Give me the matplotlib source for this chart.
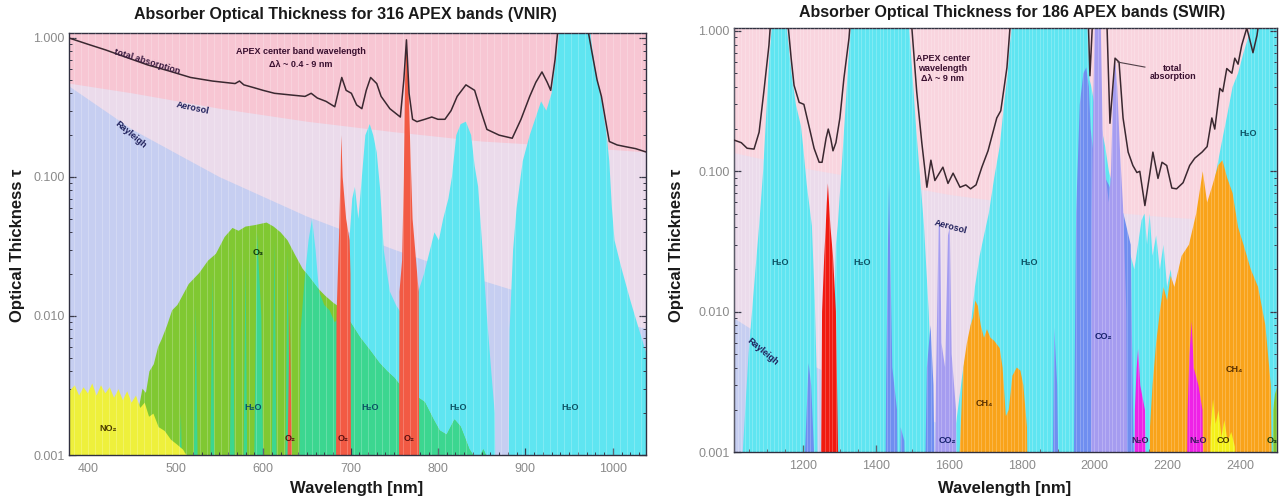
import numpy as np
import matplotlib
matplotlib.use('Agg')
import matplotlib.pyplot as plt
from matplotlib.ticker import MultipleLocator, LogLocator, FuncFormatter, NullFormatter

plt.rcParams['font.family'] = ['Liberation Sans', 'DejaVu Sans']

# ---------------- VNIR panel data (wavelength nm, optical thickness) ----------------
vnir_ray_wl = [378, 450, 550, 650, 750, 850, 950, 1040]
vnir_ray = [0.45, 0.22, 0.10, 0.052, 0.030, 0.018, 0.0115, 0.0080]
vnir_aer_wl = [378, 450, 550, 650, 750, 850, 950, 1040]
vnir_aer = [0.47, 0.40, 0.31, 0.25, 0.21, 0.18, 0.165, 0.15]

vnir_no2_wl = [378, 384, 389, 394, 399, 404, 409, 414, 419, 424, 429, 434, 439, 444,
               449, 454, 459, 464, 469, 474, 480, 487, 494, 501, 508, 512, 516]
vnir_no2 = [0.0029, 0.0032, 0.0027, 0.0031, 0.0028, 0.0033, 0.0027, 0.0032, 0.0028, 0.0031,
            0.0026, 0.0030, 0.0025, 0.0029, 0.0024, 0.0027, 0.0022, 0.0024, 0.0019, 0.0020,
            0.0016, 0.0015, 0.0013, 0.0012, 0.0011, 0.0010, 0.0001]

vnir_o3_wl = [455, 458, 462, 466, 470, 475, 480, 484, 490, 496, 502, 507, 515, 527, 537, 546,
              556, 565, 572, 580, 590, 597, 604, 612, 620, 628, 636, 645, 653, 662, 671, 680,
              688, 700, 711, 722, 733, 742, 750, 760, 768, 777, 785, 795, 802, 810, 819, 826,
              836, 845, 852, 858, 862]
vnir_o3 = [0.0001, 0.0022, 0.0030, 0.0028, 0.0040, 0.0045, 0.0060, 0.0068, 0.0085, 0.011,
           0.012, 0.0137, 0.017, 0.0204, 0.025, 0.028, 0.037, 0.043, 0.041, 0.044, 0.045,
           0.046, 0.047, 0.044, 0.040, 0.035, 0.028, 0.022, 0.019, 0.016, 0.014, 0.0125,
           0.0115, 0.009, 0.007, 0.0057, 0.0046, 0.0040, 0.0036, 0.0030, 0.0028, 0.0026,
           0.0024, 0.0018, 0.0015, 0.0014, 0.0018, 0.0016, 0.0011, 0.0009, 0.0011, 0.0009,
           0.0001]

vnir_h2o_wl = [500, 506, 510, 519, 523, 527, 538, 542, 546, 560, 565, 569, 576, 580, 583,
               588, 593, 598, 602, 608, 613, 617, 624, 628, 632, 640, 643, 648, 652, 656,
               660, 664, 670, 676, 682, 688, 694, 698, 702, 705, 709, 713, 717, 722, 726,
               730, 734, 738, 745, 752, 760, 768, 776, 784, 791, 796, 801, 806, 812, 816,
               821, 826, 832, 838, 842, 846, 851, 856, 861, 865, 867, 880, 882, 886, 890,
               897, 905, 912, 918, 924, 930, 935, 938, 940, 970, 975, 980, 987, 993, 996,
               999, 1002, 1010, 1020, 1030, 1040]
vnir_h2o = [0.0001, 0.002, 0.0001, 0.0001, 0.012, 0.0001, 0.0001, 0.02, 0.0001, 0.0001,
            0.03, 0.0001, 0.0001, 0.025, 0.0001, 0.0001, 0.04, 0.01, 0.0001, 0.0001, 0.035,
            0.0001, 0.0001, 0.03, 0.0001, 0.0001, 0.008, 0.02, 0.035, 0.05, 0.03, 0.015,
            0.012, 0.011, 0.009, 0.010, 0.012, 0.03, 0.07, 0.085, 0.05, 0.10, 0.20, 0.24,
            0.20, 0.15, 0.08, 0.03, 0.015, 0.012, 0.010, 0.011, 0.014, 0.02, 0.03, 0.04,
            0.035, 0.05, 0.07, 0.10, 0.20, 0.24, 0.25, 0.20, 0.12, 0.085, 0.03, 0.01, 0.004,
            0.002, 0.0001, 0.0001, 0.008, 0.03, 0.06, 0.13, 0.20, 0.27, 0.35, 0.30, 0.40,
            0.70, 1.0, 3.0, 3.0, 1.0, 0.60, 0.36, 0.20, 0.13, 0.06, 0.035, 0.022, 0.013,
            0.008, 0.005]

vnir_o2_wl = [626, 628, 630.5, 633, 635, 683, 684, 687, 688.5, 689.5, 691, 695, 699, 700,
              701, 755, 756, 759, 761, 762.5, 764, 766, 768, 771, 775, 778, 779]
vnir_o2 = [0.0001, 0.001, 0.011, 0.001, 0.0001, 0.0001, 0.01, 0.04, 0.10, 0.20, 0.10, 0.05,
           0.035, 0.02, 0.0001, 0.0001, 0.015, 0.025, 0.10, 0.50, 0.92, 0.50, 0.20, 0.05,
           0.025, 0.015, 0.0001]

vnir_tot_wl = [378, 400, 420, 445, 468, 492, 517, 542, 568, 573, 578, 589, 600, 613, 630,
               648, 655, 662, 672, 682, 690, 695, 701, 707, 713, 718, 723, 730, 735, 745,
               757, 761, 764, 767, 771, 776, 785, 793, 800, 808, 815, 822, 832, 842, 849,
               856, 870, 885, 895, 905, 912, 919, 925, 929, 934, 938, 970, 976, 982, 987,
               992, 996, 1005, 1015, 1026, 1040]
vnir_tot = [1.0, 0.90, 0.82, 0.72, 0.64, 0.58, 0.52, 0.49, 0.47, 0.49, 0.46, 0.44, 0.42,
            0.40, 0.39, 0.38, 0.40, 0.37, 0.35, 0.32, 0.52, 0.42, 0.40, 0.33, 0.31, 0.42,
            0.52, 0.47, 0.38, 0.31, 0.27, 0.50, 0.97, 0.40, 0.26, 0.25, 0.26, 0.27, 0.26,
            0.26, 0.30, 0.38, 0.46, 0.42, 0.30, 0.22, 0.20, 0.19, 0.26, 0.38, 0.48, 0.57,
            0.48, 0.42, 0.70, 1.3, 1.3, 0.80, 0.50, 0.38, 0.25, 0.18, 0.17, 0.165, 0.16, 0.15]

# ---------------- SWIR panel data ----------------
swir_ray_wl = [1010, 1100, 1200, 1300, 1400, 1500, 1600, 1700, 1800]
swir_ray = [0.009, 0.0064, 0.0045, 0.0033, 0.0024, 0.0019, 0.0015, 0.0012, 0.00095]
swir_aer_wl = [1010, 1200, 1400, 1600, 1800, 2000, 2200, 2502]
swir_aer = [0.135, 0.105, 0.085, 0.068, 0.058, 0.052, 0.047, 0.042]

swir_h2o_wl = [1030, 1034, 1050, 1065, 1079, 1090, 1100, 1108, 1113, 1116, 1153, 1156, 1168,
               1180, 1194, 1200, 1210, 1224, 1232, 1238, 1242, 1284, 1286, 1290, 1295, 1305,
               1315, 1324, 1330, 1333, 1489, 1492, 1500, 1510, 1520, 1532, 1545, 1553, 1558,
               1600, 1610, 1625, 1640, 1655, 1672, 1685, 1697, 1710, 1725, 1740, 1752, 1762,
               1768, 1772, 1775, 1978, 1982, 1987, 1992, 2000, 2010, 2020, 2030, 2040, 2050,
               2060, 2070, 2080, 2090, 2100, 2110, 2120, 2130, 2138, 2145, 2152, 2160, 2170,
               2180, 2190, 2200, 2210, 2220, 2240, 2260, 2280, 2300, 2320, 2335, 2350, 2365,
               2380, 2395, 2410, 2420, 2428, 2432, 2502]
swir_h2o = [0.0001, 0.001, 0.005, 0.015, 0.041, 0.10, 0.30, 0.70, 1.0, 3.0, 3.0, 1.0, 0.50,
            0.30, 0.21, 0.15, 0.08, 0.041, 0.012, 0.003, 0.0001, 0.0001, 0.01, 0.03, 0.041,
            0.10, 0.25, 0.60, 1.0, 3.0, 3.0, 1.0, 0.50, 0.21, 0.10, 0.041, 0.01, 0.003,
            0.0001, 0.0001, 0.001, 0.002, 0.004, 0.006, 0.015, 0.025, 0.035, 0.05, 0.09,
            0.15, 0.30, 0.50, 0.80, 1.0, 3.0, 3.0, 1.0, 0.45, 0.40, 0.30, 0.25, 0.20, 0.15,
            0.10, 0.08, 0.06, 0.05, 0.04, 0.03, 0.025, 0.02, 0.03, 0.045, 0.05, 0.03, 0.05,
            0.025, 0.035, 0.02, 0.03, 0.015, 0.02, 0.012, 0.015, 0.02, 0.03, 0.04, 0.06,
            0.10, 0.16, 0.25, 0.40, 0.50, 0.70, 0.85, 1.0, 3.0, 3.0]

swir_o2_wl = [1247, 1249, 1252, 1258, 1262, 1265, 1268, 1271, 1275, 1282, 1290, 1296, 1298]
swir_o2 = [0.0001, 0.001, 0.01, 0.025, 0.04, 0.06, 0.082, 0.06, 0.04, 0.025, 0.01, 0.001,
           0.0001]

swir_co2b_wl = [1200, 1205, 1215, 1222, 1230, 1234, 1424, 1428, 1433, 1436, 1440, 1445, 1458,
                1462, 1463, 1468, 1478, 1485, 1530, 1540, 1550, 1558, 1566, 1882, 1890, 1898,
                1906, 1940, 1944, 1950, 1960, 1970, 1978, 1985, 1990, 2000, 2020, 2040, 2060,
                2080, 2100, 2108, 2110]
swir_co2b = [0.0001, 0.001, 0.0043, 0.003, 0.001, 0.0001, 0.0001, 0.003, 0.03, 0.085, 0.02,
             0.004, 0.002, 0.0001, 0.0001, 0.0015, 0.0012, 0.0001, 0.0001, 0.004, 0.008,
             0.003, 0.0001, 0.0001, 0.0077, 0.003, 0.0001, 0.0001, 0.001, 0.05, 0.30, 0.50,
             0.55, 0.40, 0.20, 0.12, 0.10, 0.08, 0.06, 0.05, 0.03, 0.001, 0.0001]

swir_co2p_wl = [1560, 1565, 1572, 1576, 1580, 1590, 1598, 1603, 1608, 1620, 1624, 1990, 1993,
                1997, 2001, 2004, 2014, 2018, 2023, 2030, 2040, 2046, 2052, 2058, 2063, 2070,
                2080, 2088, 2092]
swir_co2p = [0.0001, 0.003, 0.04, 0.045, 0.006, 0.004, 0.035, 0.04, 0.005, 0.002, 0.0001,
             0.0001, 0.05, 0.30, 1.0, 3.0, 3.0, 1.0, 0.20, 0.10, 0.06, 0.10, 0.40, 0.60, 0.40,
             0.15, 0.05, 0.01, 0.0001]

swir_ch4_wl = [1626, 1630, 1640, 1650, 1660, 1667, 1673, 1680, 1688, 1697, 1705, 1715, 1725,
               1740, 1748, 1757, 1765, 1775, 1787, 1797, 1805, 1815, 1820, 2150, 2153, 2160,
               2170, 2180, 2190, 2200, 2210, 2220, 2240, 2260, 2280, 2298, 2310, 2325, 2340,
               2352, 2365, 2380, 2395, 2410, 2430, 2450, 2470, 2485, 2492]
swir_ch4 = [0.0001, 0.001, 0.004, 0.006, 0.008, 0.0091, 0.012, 0.011, 0.008, 0.0065, 0.0075,
            0.0065, 0.0062, 0.0055, 0.004, 0.0018, 0.002, 0.0035, 0.004, 0.0038, 0.003,
            0.0015, 0.0001, 0.0001, 0.0015, 0.003, 0.006, 0.010, 0.015, 0.012, 0.018, 0.015,
            0.025, 0.030, 0.05, 0.10, 0.06, 0.08, 0.11, 0.12, 0.09, 0.07, 0.04, 0.03, 0.02,
            0.015, 0.008, 0.003, 0.0001]

swir_n2o_wl = [2106, 2110, 2115, 2119, 2125, 2138, 2143, 2250, 2255, 2260, 2266, 2272, 2285,
               2296, 2300]
swir_n2o = [0.0001, 0.002, 0.004, 0.0055, 0.003, 0.002, 0.0001, 0.0001, 0.002, 0.005,
            0.0086, 0.004, 0.003, 0.002, 0.0001]

swir_co_wl = [2312, 2318, 2325, 2332, 2340, 2348, 2356, 2365, 2375, 2385, 2392]
swir_co = [0.0001, 0.0015, 0.0024, 0.0016, 0.002, 0.0013, 0.0017, 0.0012, 0.0014, 0.0011,
           0.0001]

swir_o3_wl = [2486, 2490, 2495, 2502]
swir_o3 = [0.0001, 0.002, 0.0026, 0.003]

swir_tot_wl = [1010, 1030, 1046, 1065, 1079, 1092, 1106, 1112, 1156, 1167, 1175, 1189, 1202,
               1216, 1230, 1244, 1252, 1263, 1269, 1276, 1282, 1290, 1301, 1312, 1326, 1331,
               1496, 1512, 1526, 1540, 1551, 1562, 1584, 1598, 1612, 1631, 1647, 1660, 1675,
               1691, 1708, 1732, 1743, 1760, 1771, 1983, 1988, 1996, 2034, 2043, 2057, 2068,
               2079, 2093, 2106, 2117, 2125, 2139, 2153, 2161, 2175, 2186, 2199, 2213, 2226,
               2244, 2262, 2276, 2296, 2310, 2323, 2331, 2345, 2353, 2364, 2378, 2386, 2395,
               2405, 2419, 2428, 2436, 2447, 2455, 2502]
swir_tot = [0.167, 0.16, 0.146, 0.144, 0.19, 0.37, 0.79, 1.3, 1.3, 0.64, 0.41, 0.31, 0.30,
            0.21, 0.146, 0.116, 0.116, 0.172, 0.20, 0.17, 0.14, 0.16, 0.24, 0.46, 0.89, 1.3,
            1.3, 0.37, 0.16, 0.077, 0.12, 0.086, 0.107, 0.082, 0.097, 0.077, 0.08, 0.075,
            0.08, 0.107, 0.14, 0.24, 0.27, 0.55, 1.3, 1.3, 0.48, 1.3, 1.3, 0.22, 0.64, 0.60,
            0.24, 0.137, 0.11, 0.098, 0.10, 0.057, 0.098, 0.137, 0.089, 0.116, 0.11, 0.076,
            0.075, 0.083, 0.11, 0.124, 0.137, 0.15, 0.24, 0.20, 0.39, 0.37, 0.54, 0.50, 0.64,
            0.58, 0.79, 1.05, 0.85, 0.70, 0.93, 1.3, 1.3]

# colours
PINK = '#f7c6d3'
PALE = '#ebdbeb'
LAV = '#c6cef1'
CYAN = '#5fe5f1'
TEAL = '#3cd690'
GREEN = '#80c832'
YELLOW = '#eef03c'
RED = '#f25a44'
ORANGE = '#f9a31a'
BLUE = '#6f8ef0'
PURPLE = '#a59cf0'
MAGENTA = '#ee22e6'
LINE = '#3a2830'
FLOOR = 1e-5


def band(ax, wl, tau, color, z):
    return ax.fill_between(wl, tau, FLOOR, color=color, lw=0, zorder=z)


def setup(ax, xlim, ylim, xmaj, xmin, stripe):
    ax.set_yscale('log')
    ax.set_xlim(*xlim)
    ax.set_ylim(*ylim)
    ax.set_yticks([0.001, 0.01, 0.1, 1.0])
    ax.yaxis.set_major_formatter(FuncFormatter(lambda v, p: f'{v:.3f}'))
    ax.yaxis.set_minor_locator(LogLocator(subs=np.arange(2, 10)))
    ax.yaxis.set_minor_formatter(NullFormatter())
    ax.xaxis.set_major_locator(MultipleLocator(xmaj))
    ax.xaxis.set_minor_locator(MultipleLocator(xmin))
    ax.tick_params(which='both', direction='in', top=True, right=True, colors='#3a3a4a',
                   labelcolor='#8a8a8a', labelsize=9)
    ax.tick_params(which='major', length=5, width=0.9)
    ax.tick_params(which='minor', length=2.5, width=0.7)
    ax.tick_params(axis='x', pad=6)
    ax.tick_params(axis='y', pad=3)
    for s in ax.spines.values():
        s.set_color('#303040')
        s.set_linewidth(1.0)
    # band-centre stripes on a twin axes drawn above the fills
    sx = ax.twiny()
    sx.set_xlim(*xlim)
    sx.xaxis.set_major_locator(MultipleLocator(stripe))
    sx.grid(axis='x', color='white', lw=0.5, alpha=0.3)
    sx.set_axisbelow(True)
    sx.tick_params(axis='x', which='both', length=0, labeltop=False, labelbottom=False)
    for s in sx.spines.values():
        s.set_visible(False)
    return sx


def lab(a, x, y, s, color, size=6.5, rot=0):
    a.text(x, y, s, color=color, fontsize=size, fontweight='bold', rotation=rot,
           ha='center', va='center', zorder=5, rotation_mode='anchor')


fig = plt.figure(figsize=(12.81, 5.04), dpi=100)

# ================= VNIR =================
ax1 = fig.add_axes([69 / 1281, 49 / 504, 577 / 1281, 422 / 504])
ax1.set_facecolor(PINK)
band(ax1, vnir_aer_wl, vnir_aer, PALE, 1.0)
band(ax1, vnir_ray_wl, vnir_ray, LAV, 1.1)
band(ax1, vnir_h2o_wl, vnir_h2o, CYAN, 1.3)
o3 = band(ax1, vnir_o3_wl, vnir_o3, GREEN, 1.4)
teal = band(ax1, vnir_h2o_wl, vnir_h2o, TEAL, 1.5)
teal.set_clip_path(o3.get_paths()[0], ax1.transData)
band(ax1, vnir_no2_wl, vnir_no2, YELLOW, 1.6)
band(ax1, vnir_o2_wl, vnir_o2, RED, 1.9)
sx1 = setup(ax1, (378, 1038), (0.001, 1.086), 100, 10, 8)
sx1.plot(vnir_tot_wl, vnir_tot, color=LINE, lw=1.1, zorder=3)

lab(sx1, 467, 0.672, 'total absorption', '#3a1a40', 6.5, -17)
lab(sx1, 643, 0.80, 'APEX center band wavelength', '#3a1030', 6.5)
lab(sx1, 643, 0.64, 'Δλ ~ 0.4 - 9 nm', '#3a1030', 6.5)
lab(sx1, 520, 0.314, 'Aerosol', '#1e1e5a', 6.5, -12)
lab(sx1, 449, 0.20, 'Rayleigh', '#1e1e5a', 6.5, -40)
lab(sx1, 594, 0.0284, 'O₃', '#123a10')
lab(sx1, 423, 0.00155, 'NO₂', '#4a3a00')
for xw in [589, 723, 823, 951]:
    lab(sx1, xw, 0.00221, 'H₂O', '#0b5264')
for xw in [631, 692, 767]:
    lab(sx1, xw, 0.00131, 'O₂', '#5a1010')

# ================= SWIR =================
ax2 = fig.add_axes([734 / 1281, 52 / 504, 543 / 1281, 424 / 504])
ax2.set_facecolor('#f9d5df')
band(ax2, swir_aer_wl, swir_aer, PALE, 1.0)
band(ax2, swir_ray_wl, swir_ray, LAV, 1.1)
band(ax2, swir_h2o_wl, swir_h2o, CYAN, 1.3)
band(ax2, swir_ch4_wl, swir_ch4, ORANGE, 1.6)
band(ax2, swir_co2b_wl, swir_co2b, BLUE, 1.7)
band(ax2, swir_co2p_wl, swir_co2p, PURPLE, 1.75)
band(ax2, swir_n2o_wl, swir_n2o, MAGENTA, 1.8)
band(ax2, swir_co_wl, swir_co, '#f4f018', 1.8)
band(ax2, swir_o3_wl, swir_o3, GREEN, 1.8)
band(ax2, swir_o2_wl, swir_o2, '#f01a10', 1.9)
sx2 = setup(ax2, (1010, 2502), (0.001, 1.05), 200, 50, 10)
sx2.plot(swir_tot_wl, swir_tot, color=LINE, lw=1.1, zorder=3)
sx2.plot([2065, 2139], [0.60, 0.553], color='#504048', lw=0.8, zorder=3)

lab(sx2, 1584, 0.641, 'APEX center', '#3a1030')
lab(sx2, 1584, 0.544, 'wavelength', '#3a1030')
lab(sx2, 1584, 0.462, 'Δλ ~ 9 nm', '#3a1030')
lab(sx2, 2216, 0.544, 'total', '#3a1030')
lab(sx2, 2216, 0.47, 'absorption', '#3a1030')
lab(sx2, 1606, 0.040, 'Aerosol', '#1e1e5a', 6.5, -15)
lab(sx2, 1090, 0.0052, 'Rayleigh', '#1e1e5a', 6.5, -40)
for xw, yv in [(1136, 0.0223), (1362, 0.0223), (1820, 0.0223), (2422, 0.187)]:
    lab(sx2, xw, yv, 'H₂O', '#0b5264')
lab(sx2, 2024, 0.0067, 'CO₂', '#14206a')
lab(sx2, 1697, 0.0022, 'CH₄', '#5a3000')
lab(sx2, 2386, 0.0039, 'CH₄', '#5a3000')
lab(sx2, 1595, 0.0012, 'CO₂', '#14206a')
lab(sx2, 2125, 0.0012, 'N₂O', '#3a1a60')
lab(sx2, 2285, 0.0012, 'N₂O', '#3a1a60')
lab(sx2, 2356, 0.0012, 'CO', '#4a3a00')
lab(sx2, 2488, 0.0012, 'O₃', '#123a10')

# titles and axis labels
fig.text(345 / 1281, 1 - 14 / 504, 'Absorber Optical Thickness for 316 APEX bands (VNIR)',
         ha='center', va='center', fontsize=11.5, fontweight='bold', color='#1a1a1a')
fig.text(1012 / 1281, 1 - 13 / 504, 'Absorber Optical Thickness for 186 APEX bands (SWIR)',
         ha='center', va='center', fontsize=11.5, fontweight='bold', color='#1a1a1a')
for xp in [357, 1005]:
    fig.text(xp / 1281, 1 - 488 / 504, 'Wavelength [nm]', ha='center', va='center',
             fontsize=12, fontweight='bold', color='#1a1a1a')
for xp in [18, 677]:
    fig.text(xp / 1281, 1 - 245 / 504, 'Optical Thickness τ', ha='center', va='center',
             rotation=90, fontsize=12, fontweight='bold', color='#1a1a1a')

fig.savefig('out.png', dpi=100)
